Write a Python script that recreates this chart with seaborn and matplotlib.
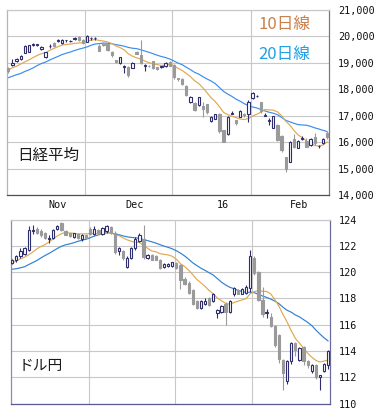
import numpy as np
import pandas as pd
import seaborn as sns
import matplotlib.pyplot as plt

# Nikkei 225 daily candles (Nov 2015 - Feb 2016), 78 sessions
nk_open = [18800, 18930, 19060, 19140, 19390, 19420, 19680, 19690, 19520, 19230,
           19630, 19770, 19840, 19750, 19850, 19830, 19910, 19970, 19870, 19800,
           19930, 19930, 19620, 19720, 19720, 19420, 19090, 18980, 18850, 18860,
           18820, 19400, 19300, 18890, 18900, 19060, 18830, 18850, 18880, 19020,
           18930, 18420, 18400, 18120, 17520, 17490, 17390, 17360, 17440, 16810,
           16880, 17060, 16450, 16300, 17080, 16830, 16960, 17060, 17080, 17670,
           17740, 17500, 17000, 16800, 16530, 16650, 16240, 15420, 15240, 16100,
           15790, 16120, 16060, 15880, 16200, 15840, 15950, 16330]
nk_high = [18860, 19160, 19170, 19290, 19660, 19690, 19740, 19730, 19620, 19420,
           19700, 19790, 19920, 19890, 19880, 19870, 19960, 20010, 19900, 20040,
           19990, 19960, 19720, 19760, 19730, 19440, 19100, 19230, 18910, 18880,
           19030, 19450, 19870, 18960, 18930, 19080, 18860, 18900, 19040, 19060,
           18950, 18440, 18420, 18180, 17740, 17510, 17720, 17510, 17460, 16990,
           17070, 17100, 16460, 17000, 17160, 16850, 17200, 17120, 17580, 17900,
           17800, 17520, 17100, 16900, 16990, 16680, 16260, 15440, 16050, 16300,
           16080, 16220, 16150, 16150, 16350, 15900, 16150, 16440]
nk_low = [18630, 18900, 19040, 19120, 19380, 19400, 19620, 19640, 19500, 19190,
          19580, 19600, 19790, 19730, 19800, 19790, 19880, 19830, 19730, 19780,
          19880, 19880, 19440, 19620, 19440, 19220, 19000, 18960, 18600, 18480,
          18800, 19320, 18950, 18700, 18860, 18750, 18720, 18820, 18860, 18880,
          18380, 18300, 18150, 17740, 17500, 17190, 17370, 16940, 17080, 16780,
          16860, 16350, 15990, 16280, 17050, 16650, 16940, 16950, 16750, 17650,
          17690, 17120, 16980, 16660, 16520, 16040, 15640, 14860, 15230, 15780,
          15760, 16100, 15800, 15860, 15900, 15760, 15930, 16130]
nk_close = [18683, 18990, 19140, 19265, 19642, 19671, 19697, 19700, 19596, 19400,
            19649, 19640, 19859, 19879, 19860, 19840, 19930, 19850, 19750, 20012,
            19938, 19939, 19450, 19690, 19490, 19280, 19020, 19210, 18880, 18530,
            19010, 19350, 18986, 18916, 18886, 18790, 18769, 18873, 18990, 18900,
            18450, 18374, 18191, 17767, 17697, 17218, 17715, 17240, 17147, 16955,
            17048, 16416, 16017, 16958, 17110, 16708, 17163, 17041, 17518, 17865,
            17750, 17191, 17044, 16819, 16980, 16085, 15713, 14980, 16022, 15820,
            16050, 16160, 15830, 16120, 15950, 15860, 16130, 16190]
# closes before the visible window (needed for the moving averages)
nk_prev = [17820, 18006, 18322, 18141, 18438, 18234, 17891, 18097, 18291, 18131,
           18207, 18554, 18436, 18826, 18947, 18778, 18904, 18936, 19083]

# USD/JPY daily candles, same sessions
fx_open = [120.7, 120.9, 121.2, 121.4, 121.7, 123.15, 123.3, 123.15, 123.0, 122.5,
           122.6, 123.25, 123.7, 123.1, 122.95, 122.7, 122.9, 122.5, 122.8, 123.3,
           122.9, 123.2, 122.9, 123.1, 123.4, 123.0, 121.6, 121.6, 120.4, 121.1,
           121.8, 122.4, 122.5, 121.1, 121.3, 121.2, 120.95, 120.4, 120.45, 120.5,
           120.7, 120.5, 119.5, 119.2, 118.6, 117.8, 117.25, 117.6, 118.0, 117.8,
           116.9, 117.0, 117.6, 117.0, 118.3, 118.65, 118.35, 118.4, 118.8, 121.05,
           120.0, 117.9, 116.85, 116.6, 115.9, 115.2, 113.3, 111.7, 113.2, 114.6,
           113.3, 114.3, 113.2, 112.5, 112.9, 112.0, 112.5, 112.9]
fx_high = [121.0, 121.3, 121.8, 121.9, 123.5, 123.6, 123.4, 123.25, 123.05, 122.8,
           123.3, 123.6, 123.8, 123.2, 123.0, 123.0, 123.0, 122.9, 122.9, 123.4,
           123.5, 123.3, 123.4, 123.6, 123.5, 123.1, 121.9, 121.7, 121.2, 121.9,
           122.7, 123.0, 123.55, 121.4, 121.4, 121.3, 121.0, 120.7, 120.7, 120.8,
           120.8, 120.6, 119.6, 119.3, 118.7, 117.9, 117.9, 118.0, 118.1, 118.4,
           117.2, 117.5, 117.7, 117.9, 118.9, 118.7, 118.8, 119.0, 121.7, 121.2,
           120.1, 118.9, 117.2, 116.9, 116.0, 115.3, 113.4, 113.3, 114.7, 114.7,
           114.3, 114.4, 113.3, 113.0, 113.0, 112.2, 113.1, 114.1]
fx_low = [120.6, 120.8, 121.1, 121.3, 121.6, 122.9, 122.9, 122.7, 122.5, 122.2,
          122.5, 123.2, 123.1, 122.8, 122.7, 122.6, 122.5, 122.4, 122.5, 122.8,
          122.8, 122.9, 122.8, 123.0, 122.9, 121.4, 121.3, 120.9, 120.3, 121.0,
          121.7, 122.3, 121.0, 121.0, 120.9, 120.9, 120.2, 120.3, 120.4, 120.4,
          120.2, 118.7, 119.0, 118.3, 117.5, 117.2, 117.2, 117.5, 117.4, 117.7,
          116.5, 116.9, 116.0, 116.9, 118.2, 118.3, 118.3, 118.3, 118.5, 119.8,
          117.8, 116.6, 116.5, 115.8, 114.3, 113.1, 111.0, 111.5, 113.0, 113.6,
          113.2, 112.9, 112.7, 112.3, 111.9, 111.0, 112.4, 112.6]
fx_close = [120.9, 121.2, 121.6, 121.8, 123.2, 123.2, 123.0, 122.85, 122.6, 122.6,
            123.2, 123.5, 123.2, 122.85, 122.75, 122.95, 122.6, 122.8, 122.6, 122.9,
            123.3, 123.0, 123.35, 123.5, 123.0, 121.5, 121.8, 121.1, 121.1, 121.8,
            122.5, 122.85, 121.15, 121.3, 120.95, 120.95, 120.3, 120.6, 120.65, 120.75,
            120.3, 119.4, 119.1, 118.4, 117.6, 117.25, 117.8, 117.8, 117.5, 118.3,
            117.1, 117.4, 117.0, 117.8, 118.8, 118.35, 118.7, 118.9, 121.2, 119.9,
            117.9, 116.8, 116.95, 115.9, 114.45, 113.4, 112.3, 113.2, 114.6, 114.1,
            114.2, 113.2, 112.9, 112.9, 112.0, 112.2, 113.0, 114.0]
fx_prev = [120.4, 120.2, 120.2, 119.9, 120.2, 119.8, 118.9, 118.9, 119.4, 119.4,
           119.8, 119.9, 120.6, 121.4, 121.1, 120.5, 121.1, 121.1, 120.6]

month_labels = ['Nov', 'Dec', '16', 'Feb']
month_pos = [11.8, 30.6, 51.9, 70.2]
month_grid = [18.6, 39.6, 58.5]

UP = '#2e2e6e'
DOWN = '#9a9a9a'
MA10_C = '#e0a850'
MA20_C = '#3a8cf0'

sns.set_style("white")
plt.rcParams['font.family'] = ['DejaVu Sans Mono', 'Noto Sans CJK JP']
JP = ['Noto Sans CJK JP', 'DejaVu Sans']


def moving_avgs(prev, close):
    s = pd.Series(prev + close)
    n = len(prev)
    return s.rolling(10).mean().iloc[n:].values, s.rolling(20).mean().iloc[n:].values


def draw_candles(ax, o, h, l, c, width=0.55):
    o, h, l, c = map(np.asarray, (o, h, l, c))
    x = np.arange(len(c))
    up = c >= o
    bottom = np.minimum(o, c)
    height = np.abs(c - o)
    ax.vlines(x[up], l[up], h[up], color=UP, lw=0.8, zorder=3)
    ax.vlines(x[~up], l[~up], h[~up], color=DOWN, lw=0.8, zorder=3)
    ax.bar(x[up], height[up], width, bottom[up], facecolor='white',
           edgecolor=UP, lw=0.8, zorder=4)
    ax.bar(x[~up], height[~up], width, bottom[~up], facecolor=DOWN,
           edgecolor=DOWN, lw=0.8, zorder=4)


def style_panel(ax, yticks, fmt, spine_cols):
    ax.set_xlim(-0.3, 77.45)
    ax.set_ylim(yticks[0], yticks[-1])
    ax.yaxis.tick_right()
    ax.set_yticks(yticks, [fmt(v) for v in yticks])
    ax.tick_params(axis='y', length=0, pad=6.5, labelsize=7.3, labelcolor='#111111')
    ax.tick_params(axis='x', length=0, pad=3.5, labelsize=7.3, labelcolor='#111111')
    ax.grid(axis='y', color='#c8c8c8', lw=0.8)
    for g in month_grid:
        ax.axvline(g, color='#c8c8c8', lw=0.8, zorder=1)
    ax.set_axisbelow(True)
    for side, col in spine_cols.items():
        ax.spines[side].set_color(col)
        ax.spines[side].set_linewidth(0.9)
    ax.set_xlabel('')
    ax.set_ylabel('')


W, H = 386, 420
fig = plt.figure(figsize=(W / 100, H / 100), dpi=100)
ax1 = fig.add_axes([7 / W, 1 - 195 / H, 322 / W, 185 / H])
ax2 = fig.add_axes([11 / W, 1 - 403.5 / H, 319 / W, 184 / H])

x = np.arange(len(nk_close))

# top: Nikkei
nk_ma10, nk_ma20 = moving_avgs(nk_prev, nk_close)
sns.lineplot(x=x, y=nk_ma20, ax=ax1, color=MA20_C, lw=0.85, zorder=2)
sns.lineplot(x=x, y=nk_ma10, ax=ax1, color=MA10_C, lw=0.85, zorder=2)
draw_candles(ax1, nk_open, nk_high, nk_low, nk_close)
style_panel(ax1, list(range(14000, 21001, 1000)), lambda v: f"{v:,}",
            {'top': '#c8c8c8', 'left': '#b4b4b4', 'right': '#7a7a7a', 'bottom': '#505050'})
ax1.set_xticks(month_pos, month_labels)
ax1.text(0.78, 0.924, '10日線', transform=ax1.transAxes, color='#c8804c',
         fontsize=12, va='center', family=JP)
ax1.text(0.78, 0.757, '20日線', transform=ax1.transAxes, color='#22a0e6',
         fontsize=12, va='center', family=JP)
ax1.text(0.031, 0.216, '日経平均', transform=ax1.transAxes, color='#1a1a1a',
         fontsize=11.2, va='center', family=JP)

# bottom: USD/JPY
fx_ma10, fx_ma20 = moving_avgs(fx_prev, fx_close)
sns.lineplot(x=x, y=fx_ma20, ax=ax2, color='#2f80d4', lw=0.85, zorder=2)
sns.lineplot(x=x, y=fx_ma10, ax=ax2, color=MA10_C, lw=0.85, zorder=2)
draw_candles(ax2, fx_open, fx_high, fx_low, fx_close)
style_panel(ax2, list(range(110, 125, 2)), lambda v: f"{v}",
            {'top': '#c8c8c8', 'left': '#8a8ab0', 'right': '#6a6a9c', 'bottom': '#5a5a90'})
ax2.set_xticks([])
ax2.text(0.025, 0.204, 'ドル円', transform=ax2.transAxes, color='#1a1a1a',
         fontsize=10.6, va='center', family=JP)

fig.savefig('out.png', dpi=100, facecolor='white')
